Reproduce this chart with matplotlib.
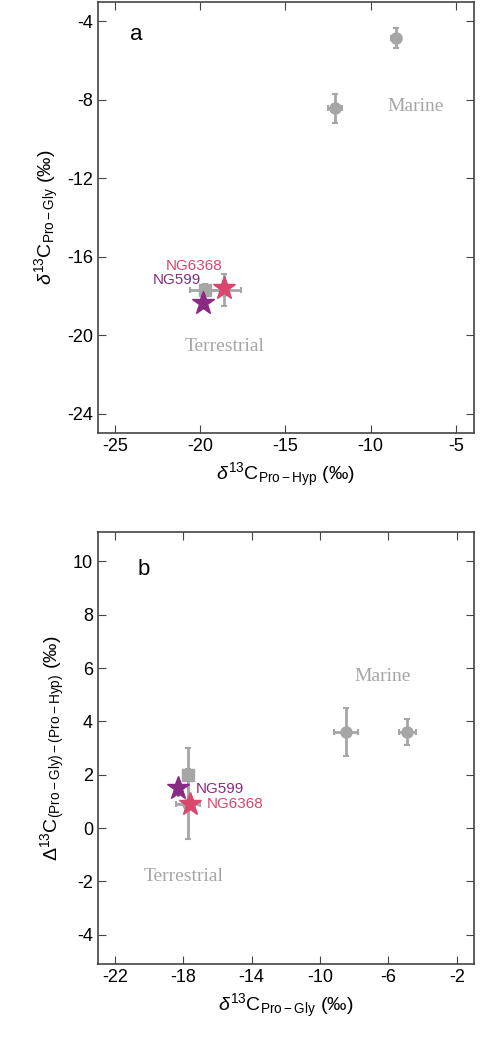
import matplotlib.pyplot as plt

plt.rcParams["font.family"] = ["Liberation Sans", "DejaVu Sans"]
plt.rcParams["mathtext.fontset"] = "custom"
plt.rcParams["mathtext.rm"] = "Liberation Sans"
plt.rcParams["mathtext.it"] = "Liberation Sans:italic"
plt.rcParams["axes.unicode_minus"] = False

grey = "#a6a6a6"
purple = "#8b2a83"
pink = "#d9476e"

# panel a: d13C Pro-Hyp (x) vs d13C Pro-Gly (y)
a_ref_x = [-19.7, -18.6, -12.1, -8.5]
a_ref_y = [-17.7, -17.7, -8.45, -4.87]
a_ref_xerr = [0.9, 1.0, 0.4, 0.3]
a_ref_yerr = [0.3, 0.8, 0.75, 0.5]
a_ref_marker = ["s", "o", "o", "o"]
a_ng599 = (-19.85, -18.35)
a_ng6368 = (-18.6, -17.6)

# panel b: d13C Pro-Gly (x) vs D13C (y)
b_ref_x = [-17.7, -17.7, -8.5, -4.9]
b_ref_y = [2.0, 0.9, 3.6, 3.6]
b_ref_xerr = [0.2, 0.7, 0.7, 0.5]
b_ref_yerr = [1.0, 1.3, 0.9, 0.5]
b_ref_marker = ["s", "o", "o", "o"]
b_ng599 = (-18.3, 1.5)
b_ng599_err = 0.3
b_ng6368 = (-17.6, 0.9)

fig = plt.figure(figsize=(4.82, 10.39), dpi=100)
ax1 = fig.add_axes([0.203, 0.583, 0.780, 0.415])
ax2 = fig.add_axes([0.203, 0.072, 0.780, 0.416])

def draw_refs(ax, xs, ys, xe, ye, mk):
    for x, y, ex, ey, m in zip(xs, ys, xe, ye, mk):
        ax.errorbar(x, y, xerr=ex, yerr=ey, fmt=m, color=grey, ms=8,
                    elinewidth=2, capsize=2, capthick=1.5, zorder=2)

serif = "Liberation Serif"

draw_refs(ax1, a_ref_x, a_ref_y, a_ref_xerr, a_ref_yerr, a_ref_marker)
ax1.plot(*a_ng599, marker="*", color=purple, ms=17, ls="none", zorder=4)
ax1.plot(*a_ng6368, marker="*", color=pink, ms=17, ls="none", zorder=4)
ax1.text(-22.0, -16.5, "NG6368", color=pink, fontsize=11, va="center")
ax1.text(-22.8, -17.2, "NG599", color=purple, fontsize=11, va="center")
ax1.text(-20.9, -20.6, "Terrestrial", color=grey, fontsize=14, family=serif, va="center")
ax1.text(-9.0, -8.35, "Marine", color=grey, fontsize=14, family=serif, va="center")
ax1.text(-24.1, -4.7, "a", fontsize=16, va="center")
ax1.set_xlim(-26.0, -3.94)
ax1.set_ylim(-25.0, -3.03)
ax1.set_xticks([-25, -20, -15, -10, -5])
ax1.set_yticks([-24, -20, -16, -12, -8, -4])
ax1.set_xlabel(r"$\delta^{13}$C$_{\rm Pro-Hyp}$ (‰)", fontsize=14)
ax1.set_ylabel(r"$\delta^{13}$C$_{\rm Pro-Gly}$ (‰)", fontsize=14)

draw_refs(ax2, b_ref_x, b_ref_y, b_ref_xerr, b_ref_yerr, b_ref_marker)
ax2.errorbar(*b_ng599, yerr=b_ng599_err, marker="*", color=purple, ms=17, ls="none",
             elinewidth=2, zorder=4)
ax2.plot(*b_ng6368, marker="*", color=pink, ms=17, ls="none", zorder=5)
ax2.text(-17.3, 1.45, "NG599", color=purple, fontsize=11, va="center")
ax2.text(-16.6, 0.9, "NG6368", color=pink, fontsize=11, va="center")
ax2.text(-20.3, -1.8, "Terrestrial", color=grey, fontsize=14, family=serif, va="center")
ax2.text(-8.0, 5.7, "Marine", color=grey, fontsize=14, family=serif, va="center")
ax2.text(-20.7, 9.7, "b", fontsize=16, va="center")
ax2.set_xlim(-23.0, -1.0)
ax2.set_ylim(-5.1, 11.1)
ax2.set_xticks([-22, -18, -14, -10, -6, -2])
ax2.set_yticks([-4, -2, 0, 2, 4, 6, 8, 10])
ax2.set_xlabel(r"$\delta^{13}$C$_{\rm Pro-Gly}$ (‰)", fontsize=14)
ax2.set_ylabel(r"$\Delta^{13}$C$_{\rm (Pro-Gly)-(Pro-Hyp)}$ (‰)", fontsize=14)

for ax in (ax1, ax2):
    ax.tick_params(direction="in", top=True, right=True, labelsize=13, length=6, color="#444444")
    for s in ax.spines.values():
        s.set_color("#444444")
        s.set_linewidth(1.2)

fig.savefig("out.png", dpi=100)
